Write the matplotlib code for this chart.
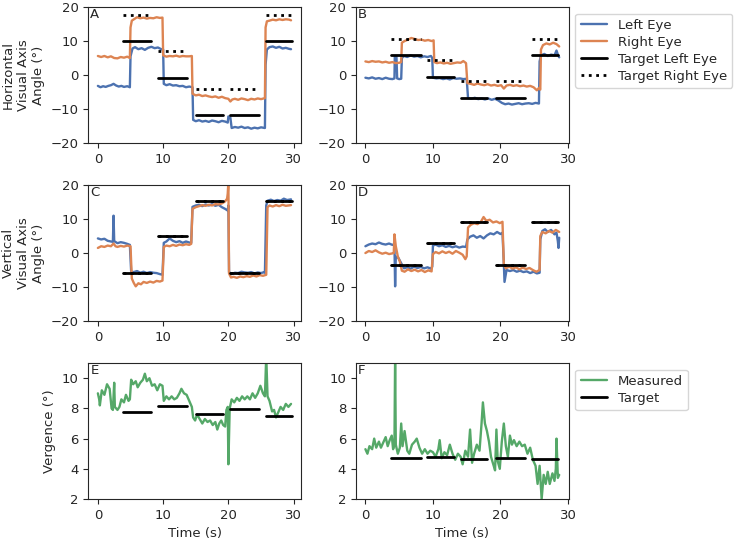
import matplotlib
matplotlib.use('Agg')
import matplotlib.pyplot as plt
import seaborn as sns

sns.set_style('ticks')
plt.rcParams['font.family'] = ['DejaVu Sans']
plt.rcParams['font.size'] = 9.5

blue = '#4C72B0'
orange = '#DD8452'
green = '#55A868'

# ---------------- Panel A : horizontal, left column ----------------
tA_left = [0.0, 0.4, 0.8, 1.2, 1.6, 2.0, 2.4, 2.8, 3.2, 3.6, 4.0, 4.5, 4.9, 5.0, 5.3, 5.7, 6.2, 6.7, 7.2, 7.7,
           8.2, 8.7, 9.2, 9.7, 10.0, 10.1, 10.5, 11.0, 11.5, 12.0, 12.5, 13.0, 13.5, 14.0, 14.5, 14.6, 15.0,
           15.5, 16.0, 16.5, 17.0, 17.5, 18.0, 18.5, 19.0, 19.5, 19.9, 20.0, 20.3, 20.5, 21.0, 21.5, 22.0,
           22.5, 23.0, 23.5, 24.0, 24.5, 25.0, 25.6, 25.7, 25.9, 26.3, 26.8, 27.3, 27.8, 28.3, 28.8, 29.3, 29.6]
A_left = [-3.2, -3.6, -3.3, -3.5, -3.2, -3.0, -2.6, -3.1, -3.4, -3.2, -3.5, -3.3, -3.6, 5.5, 7.8, 8.2, 7.6, 7.9,
          7.4, 8.0, 8.3, 7.9, 8.1, 7.6, 7.5, -2.6, -3.0, -2.7, -3.1, -3.0, -3.3, -3.2, -3.6, -3.4, -3.6, -13.2,
          -13.6, -13.3, -13.7, -13.5, -13.8, -13.4, -13.6, -13.9, -13.5, -13.7, -14.0, -12.2, -12.5, -15.6,
          -15.3, -15.5, -15.2, -15.6, -15.4, -15.8, -15.5, -15.7, -15.4, -15.6, 3.0, 7.5, 8.2, 8.4, 8.0, 8.3,
          7.8, 8.0, 7.7, 7.6]
tA_right = [0.0, 0.5, 1.0, 1.5, 2.0, 2.5, 3.0, 3.5, 4.0, 4.5, 4.9, 5.0, 5.2, 5.6, 6.0, 6.5, 7.0, 7.5, 8.0, 8.5,
            9.0, 9.5, 9.9, 10.0, 10.5, 11.0, 11.5, 12.0, 12.5, 13.0, 13.5, 14.0, 14.4, 14.5, 15.0, 15.5, 16.0,
            16.5, 17.0, 17.5, 18.0, 18.5, 19.0, 19.5, 20.0, 20.3, 20.6, 21.0, 21.5, 22.0, 22.5, 23.0, 23.5,
            24.0, 24.5, 25.0, 25.6, 25.7, 25.9, 26.3, 26.8, 27.3, 27.8, 28.3, 28.8, 29.3, 29.6]
A_right = [5.6, 5.3, 5.6, 5.2, 5.5, 5.0, 4.9, 5.3, 5.1, 5.4, 5.0, 14.0, 16.0, 16.5, 17.0, 16.7, 16.9, 16.6, 16.8,
           16.7, 17.0, 16.8, 16.9, 5.8, 5.4, 5.6, 5.5, 5.7, 5.4, 5.6, 5.5, 5.5, 5.6, -5.5, -6.0, -5.8, -6.2,
           -6.0, -6.3, -6.5, -6.3, -6.7, -6.4, -6.8, -7.0, -7.8, -7.2, -7.0, -7.3, -6.9, -7.1, -7.4, -7.0,
           -7.2, -6.9, -7.1, -6.8, 14.0, 15.8, 16.0, 16.3, 16.1, 16.4, 16.2, 16.4, 16.3, 16.1]

# ---------------- Panel B : horizontal, right column ----------------
tB_left = [0.0, 0.5, 1.0, 1.5, 2.0, 2.5, 3.0, 3.5, 4.0, 4.3, 4.35, 4.6, 4.7, 5.0, 5.3, 5.4, 5.7, 6.2, 6.7, 7.2,
           7.7, 8.2, 8.7, 9.2, 9.7, 9.9, 10.0, 10.5, 11.0, 11.5, 12.0, 12.5, 13.0, 13.5, 14.0, 14.5, 15.0,
           15.2, 15.7, 16.2, 16.7, 17.2, 17.7, 18.2, 18.7, 19.2, 19.7, 20.2, 20.7, 21.2, 21.7, 22.2, 22.7,
           23.2, 23.7, 24.2, 24.7, 25.2, 25.7, 25.8, 26.0, 26.5, 27.0, 27.5, 28.0, 28.3, 28.5, 28.7]
B_left = [-0.8, -1.0, -0.7, -1.1, -0.9, -1.2, -0.8, -1.1, -1.2, -1.0, 5.5, 5.3, -1.0, -1.2, -1.1, 5.0, 5.6, 5.3,
          5.8, 5.4, 5.6, 5.2, 5.5, 5.3, 5.6, 5.0, -0.8, -1.0, -0.9, -1.2, -1.0, -1.3, -0.9, -1.1, -1.0, -1.2,
          -1.1, -6.8, -7.0, -6.7, -7.1, -6.9, -7.2, -6.9, -7.3, -7.0, -7.5, -8.2, -8.6, -8.4, -8.7, -8.5,
          -8.3, -8.6, -8.4, -8.3, -8.5, -8.2, -8.4, 4.0, 5.8, 6.2, 5.6, 6.0, 5.8, 7.2, 6.0, 5.2]
tB_right = [0.0, 0.5, 1.0, 1.5, 2.0, 2.5, 3.0, 3.5, 4.0, 4.5, 5.0, 5.3, 5.4, 5.8, 6.3, 6.8, 7.3, 7.8, 8.3, 8.8,
            9.3, 9.8, 10.1, 10.2, 10.6, 11.1, 11.6, 12.1, 12.6, 13.1, 13.6, 14.1, 14.5, 14.9, 15.1, 15.6, 16.1,
            16.6, 17.1, 17.6, 18.1, 18.6, 19.1, 19.6, 20.1, 20.5, 20.9, 21.4, 21.9, 22.4, 22.9, 23.4, 23.9,
            24.4, 24.9, 25.4, 25.7, 25.9, 26.0, 26.3, 26.8, 27.3, 27.8, 28.3, 28.7]
B_right = [4.0, 3.8, 4.1, 3.9, 4.0, 3.7, 3.9, 3.6, 3.8, 3.5, 3.6, 3.8, 9.5, 10.0, 10.4, 10.9, 10.6, 10.3, 10.4,
           10.1, 10.3, 10.0, 10.2, 3.8, 3.5, 3.7, 3.4, 3.6, 3.3, 3.5, 3.7, 3.6, 4.1, 3.5, -2.4, -2.6, -2.9,
           -2.5, -2.8, -3.0, -2.7, -3.1, -2.9, -3.2, -3.0, -4.0, -3.1, -2.9, -3.2, -3.0, -3.3, -3.1, -3.4,
           -3.2, -3.6, -4.5, -3.8, -4.3, 7.5, 8.8, 9.3, 9.0, 9.5, 9.1, 8.4]

# ---------------- Panel C : vertical, left column ----------------
tC_left = [0.0, 0.5, 1.0, 1.5, 2.0, 2.3, 2.4, 2.5, 3.0, 3.5, 4.0, 4.5, 4.9, 5.1, 5.5, 6.0, 6.5, 7.0, 7.5, 8.0,
           8.5, 9.0, 9.5, 9.9, 10.1, 10.5, 11.0, 11.5, 12.0, 12.5, 13.0, 13.5, 14.0, 14.3, 14.5, 15.0, 15.5,
           16.0, 16.5, 17.0, 17.5, 18.0, 18.5, 19.0, 19.5, 19.9, 20.0, 20.1, 20.5, 21.0, 21.5, 22.0, 22.5,
           23.0, 23.5, 24.0, 24.5, 25.0, 25.5, 25.6, 25.8, 26.0, 26.5, 27.0, 27.5, 28.0, 28.5, 29.0, 29.6]
C_left = [4.3, 4.0, 4.2, 3.6, 3.4, 3.3, 11.0, 3.5, 2.9, 3.2, 3.0, 2.7, 2.4, -5.5, -5.6, -5.3, -5.8, -5.5, -5.9,
          -5.6, -5.8, -5.9, -6.2, -6.4, 3.0, 3.4, 4.3, 3.6, 3.2, 3.5, 3.0, 3.4, 3.1, 3.0, 13.6, 14.0, 14.2,
          13.8, 14.3, 14.0, 14.4, 13.9, 14.2, 13.5, 13.0, 12.5, 14.0, -5.6, -6.2, -5.8, -5.9, -5.5, -5.7,
          -5.8, -5.6, -6.0, -5.7, -5.9, -5.6, -5.8, 14.0, 15.4, 15.7, 15.3, 15.6, 15.4, 16.0, 15.6, 15.8]
tC_right = [0.0, 0.5, 1.0, 1.5, 2.0, 2.4, 2.7, 3.0, 3.5, 4.0, 4.5, 5.0, 5.2, 5.5, 5.8, 6.2, 6.6, 7.0, 7.5, 8.0,
            8.5, 9.0, 9.5, 9.9, 10.1, 10.5, 11.0, 11.5, 12.0, 12.5, 13.0, 13.5, 14.0, 14.3, 14.5, 15.0, 15.5,
            16.0, 16.5, 17.0, 17.5, 18.0, 18.5, 19.0, 19.5, 19.8, 19.9, 20.0, 20.1, 20.4, 20.8, 21.3, 21.8,
            22.3, 22.8, 23.3, 23.8, 24.3, 24.8, 25.3, 25.8, 26.0, 26.3, 26.8, 27.3, 27.8, 28.3, 28.8, 29.6]
C_right = [1.5, 2.0, 1.8, 2.2, 2.0, 2.8, 2.0, 1.8, 2.1, 1.9, 2.2, 2.0, -7.5, -8.8, -9.8, -8.9, -9.2, -8.5, -8.8,
           -8.4, -8.7, -8.2, -8.4, -8.1, 1.8, 2.2, 2.0, 2.4, 2.1, 2.5, 2.3, 2.6, 2.4, 2.7, 13.0, 13.5, 13.8,
           14.1, 13.9, 14.2, 14.0, 14.4, 14.3, 14.6, 15.2, 16.0, 17.5, 21.0, -6.0, -7.2, -7.0, -7.3, -6.9,
           -7.1, -6.8, -7.0, -6.6, -6.9, -6.5, -6.7, -6.4, 13.5, 14.0, 13.7, 14.1, 13.8, 14.2, 13.9, 14.1]

# ---------------- Panel D : vertical, right column ----------------
tD_left = [0.0, 0.5, 1.0, 1.5, 2.0, 2.5, 3.0, 3.5, 4.0, 4.3, 4.4, 4.5, 4.9, 5.3, 5.7, 6.2, 6.7, 7.2, 7.7, 8.2,
           8.7, 9.2, 9.7, 9.9, 10.0, 10.4, 10.9, 11.4, 11.9, 12.4, 12.9, 13.4, 13.9, 14.4, 14.9, 15.1, 15.5,
           16.0, 16.5, 17.0, 17.5, 18.0, 18.5, 19.0, 19.5, 20.0, 20.3, 20.5, 20.6, 20.9, 21.4, 21.9, 22.4,
           22.9, 23.4, 23.9, 24.4, 24.9, 25.4, 25.8, 25.9, 26.2, 26.6, 27.0, 27.5, 28.0, 28.3, 28.5, 28.6, 28.7]
D_left = [2.0, 2.5, 2.8, 2.6, 3.1, 2.7, 2.5, 2.8, 2.4, 2.6, -9.8, -1.0, -1.5, -3.0, -4.5, -4.2, -4.6, -4.0, -4.4,
          -4.1, -4.5, -4.2, -4.6, -4.0, 2.2, 2.5, 2.0, 2.3, 1.8, 2.1, 1.7, 2.0, 1.6, 1.9, 1.8, 4.0, 4.8, 5.2,
          4.5, 5.0, 4.3, 5.2, 5.8, 5.5, 6.2, 5.6, 6.0, -3.0, -8.5, -5.0, -5.3, -5.0, -5.5, -5.2, -5.6, -5.4,
          -5.9, -5.5, -6.0, -5.8, 4.0, 6.5, 7.0, 6.2, 6.8, 5.5, 6.0, 3.5, 1.5, 4.5]
tD_right = [0.0, 0.5, 1.0, 1.5, 2.0, 2.5, 3.0, 3.5, 4.0, 4.2, 4.3, 4.5, 4.8, 5.1, 5.4, 5.8, 6.3, 6.8, 7.3, 7.8,
            8.3, 8.8, 9.3, 9.8, 10.0, 10.4, 10.9, 11.4, 11.9, 12.4, 12.9, 13.4, 13.9, 14.4, 14.8, 15.0, 15.2,
            15.6, 16.1, 16.6, 17.1, 17.5, 17.9, 18.4, 18.9, 19.4, 19.9, 20.3, 20.5, 20.8, 21.3, 21.8, 22.3,
            22.8, 23.3, 23.8, 24.3, 24.8, 25.3, 25.8, 25.9, 26.2, 26.7, 27.2, 27.7, 28.2, 28.7]
D_right = [0.0, 0.6, 0.3, 0.8, 0.2, -0.2, 0.1, -0.3, -0.1, 0.0, 5.5, 2.0, -1.0, -2.5, -5.2, -5.5, -4.8, -5.3,
           -4.9, -5.4, -5.0, -5.6, -5.1, -5.4, -0.3, 0.3, -0.1, 0.5, 0.0, 0.4, -0.2, 0.6, 0.1, -0.5, -1.8,
           -1.0, 7.5, 8.3, 8.8, 8.5, 9.2, 10.6, 9.5, 9.8, 9.0, 9.3, 8.8, 9.2, -3.5, -4.5, -4.0, -4.6, -4.2,
           -4.8, -4.3, -4.7, -4.4, -5.0, -5.5, -5.0, 5.0, 6.2, 5.8, 6.5, 6.0, 6.8, 6.2]

# ---------------- Panels E and F : vergence ----------------
tE = [0.0, 0.2, 0.3, 0.6, 1.0, 1.4, 1.8, 2.1, 2.3, 2.5, 2.6, 3.0, 3.3, 3.6, 4.0, 4.3, 4.7, 4.9, 5.1, 5.4, 5.8,
      6.1, 6.5, 6.9, 7.2, 7.5, 7.9, 8.3, 8.7, 9.1, 9.5, 9.9, 10.1, 10.5, 10.9, 11.3, 11.7, 12.1, 12.5, 12.8,
      13.2, 13.6, 14.0, 14.4, 14.6, 14.9, 15.2, 15.6, 16.0, 16.4, 16.8, 17.2, 17.6, 18.0, 18.3, 18.6, 18.9,
      19.2, 19.5, 19.7, 19.9, 20.0, 20.2, 20.5, 20.9, 21.3, 21.7, 22.1, 22.5, 22.9, 23.3, 23.7, 24.1, 24.5,
      24.9, 25.3, 25.6, 25.8, 26.0, 26.3, 26.7, 27.0, 27.3, 27.7, 28.0, 28.4, 28.8, 29.2, 29.6]
E_measured = [9.0, 8.6, 8.2, 9.2, 8.9, 9.6, 9.3, 8.0, 7.9, 9.7, 8.1, 7.9, 8.1, 8.6, 8.4, 8.9, 8.5, 8.6, 9.9, 9.6,
              9.8, 9.4, 9.7, 9.9, 10.3, 9.8, 10.0, 9.5, 9.6, 9.2, 9.6, 9.5, 8.5, 8.8, 8.6, 8.8, 8.6, 8.7, 9.0,
              9.3, 9.0, 8.9, 8.5, 8.1, 7.4, 7.2, 7.6, 7.3, 7.0, 7.3, 7.1, 7.2, 6.9, 7.1, 6.6, 7.0, 7.2, 6.9,
              6.8, 7.9, 8.1, 4.3, 8.0, 8.6, 8.4, 8.7, 8.5, 8.8, 8.6, 8.8, 8.6, 9.0, 8.7, 9.0, 9.5, 9.0, 8.8,
              11.5, 8.8, 8.5, 7.8, 7.9, 7.4, 7.8, 8.1, 7.9, 8.3, 8.1, 8.3]
tF = [0.0, 0.3, 0.6, 1.0, 1.3, 1.6, 2.0, 2.3, 2.6, 3.0, 3.3, 3.6, 3.9, 4.1, 4.3, 4.4, 4.5, 4.8, 5.1, 5.3, 5.5,
      5.8, 6.2, 6.5, 6.9, 7.3, 7.6, 8.0, 8.4, 8.8, 9.2, 9.6, 10.0, 10.4, 10.8, 11.0, 11.3, 11.7, 12.1, 12.5,
      12.9, 13.3, 13.7, 14.1, 14.4, 14.8, 15.2, 15.5, 15.8, 16.1, 16.5, 16.9, 17.2, 17.4, 17.7, 18.0, 18.3,
      18.6, 19.0, 19.2, 19.4, 19.6, 19.9, 20.2, 20.5, 20.8, 21.1, 21.4, 21.7, 22.0, 22.4, 22.8, 23.2, 23.6,
      24.0, 24.4, 24.8, 25.2, 25.5, 25.8, 26.1, 26.4, 26.7, 27.0, 27.3, 27.7, 28.0, 28.2, 28.3, 28.5, 28.7]
F_measured = [5.3, 5.0, 5.5, 5.3, 6.0, 5.4, 5.8, 5.4, 5.7, 6.1, 5.5, 5.9, 6.2, 5.3, 5.6, 11.5, 5.6, 5.0, 5.4,
              7.0, 5.5, 6.5, 5.2, 5.0, 5.6, 5.8, 6.0, 5.4, 5.0, 5.3, 5.0, 5.2, 5.1, 4.8, 5.3, 5.9, 4.7, 5.1,
              4.9, 5.6, 5.0, 4.6, 5.0, 4.8, 4.3, 5.2, 4.8, 6.6, 4.4, 5.0, 5.6, 5.2, 7.0, 8.4, 7.0, 6.5, 5.8,
              4.8, 4.2, 3.9, 6.6, 4.5, 4.0, 5.8, 7.0, 5.5, 4.8, 6.2, 5.6, 5.9, 5.5, 5.8, 5.5, 5.6, 5.0, 5.4,
              4.6, 4.2, 3.0, 4.2, 2.0, 3.6, 3.0, 3.8, 3.0, 3.7, 3.2, 4.0, 6.0, 3.4, 3.6]

# ---------------- Targets (five fixations per trial) ----------------
seg_start_left = [3.9, 9.2, 15.0, 20.3, 25.7]
seg_end_left = [8.2, 13.6, 19.2, 24.7, 29.7]
seg_start_right = [3.8, 9.05, 14.1, 19.3, 24.6]
seg_end_right = [8.2, 13.1, 18.05, 23.6, 28.5]

A_target_left = [10.0, -0.8, -11.7, -11.7, 10.0]
A_target_right = [17.8, 7.2, -4.1, -4.1, 17.8]
B_target_left = [6.0, -0.45, -6.8, -6.8, 6.0]
B_target_right = [10.65, 4.3, -1.9, -1.9, 10.65]
C_target = [-5.8, 5.1, 15.4, -5.8, 15.4]
D_target = [-3.4, 3.0, 9.25, -3.4, 9.25]
E_target = [7.76, 8.16, 7.65, 7.98, 7.53]
F_target = [4.69, 4.8, 4.65, 4.74, 4.63]

fig, axes = plt.subplots(3, 2, figsize=(7.35, 5.43), dpi=100)
plt.subplots_adjust(left=0.12, right=0.774, bottom=0.081, top=0.987, wspace=0.255, hspace=0.31)


def draw_targets(ax, starts, ends, vals, style, label):
    for i in range(len(vals)):
        ax.plot([starts[i], ends[i]], [vals[i], vals[i]], color='black', ls=style, lw=2,
                label=label if i == 0 else None)


# eyes
eye_panels = [
    (axes[0, 0], tA_left, A_left, tA_right, A_right, seg_start_left, seg_end_left, A_target_left, A_target_right, 'A'),
    (axes[0, 1], tB_left, B_left, tB_right, B_right, seg_start_right, seg_end_right, B_target_left, B_target_right, 'B'),
    (axes[1, 0], tC_left, C_left, tC_right, C_right, seg_start_left, seg_end_left, C_target, C_target, 'C'),
    (axes[1, 1], tD_left, D_left, tD_right, D_right, seg_start_right, seg_end_right, D_target, D_target, 'D'),
]
for ax, tl, yl, tr, yr, s, e, tgl, tgr, letter in eye_panels:
    ax.plot(tl, yl, color=blue, lw=1.7, label='Left Eye')
    ax.plot(tr, yr, color=orange, lw=1.7, label='Right Eye')
    draw_targets(ax, s, e, tgl, '-', 'Target Left Eye')
    draw_targets(ax, s, e, tgr, ':', 'Target Right Eye')
    ax.set_ylim(-20, 20)
    ax.set_yticks([-20, -10, 0, 10, 20])
    ax.set_xticks([0, 10, 20, 30])
    ax.text(0.01, 0.99, letter, transform=ax.transAxes, ha='left', va='top')

axes[0, 0].set_ylabel('Horizontal\nVisual Axis\nAngle (°)')
axes[1, 0].set_ylabel('Vertical\nVisual Axis\nAngle (°)')
axes[0, 1].legend(loc='upper left', bbox_to_anchor=(1.0, 1.0), labelspacing=0.3)

# vergence
verg_panels = [
    (axes[2, 0], tE, E_measured, seg_start_left, seg_end_left, E_target, 'E'),
    (axes[2, 1], tF, F_measured, seg_start_right, seg_end_right, F_target, 'F'),
]
for ax, t, v, s, e, tg, letter in verg_panels:
    ax.plot(t, v, color=green, lw=1.7, label='Measured')
    draw_targets(ax, s, e, tg, '-', 'Target')
    ax.set_ylim(2, 11)
    ax.set_yticks([2, 4, 6, 8, 10])
    ax.set_xticks([0, 10, 20, 30])
    ax.set_xlabel('Time (s)')
    ax.text(0.01, 0.99, letter, transform=ax.transAxes, ha='left', va='top')

axes[2, 0].set_ylabel('Vergence (°)')
axes[2, 1].legend(loc='upper left', bbox_to_anchor=(1.0, 1.0), labelspacing=0.3)

plt.savefig('out.png', dpi=100)
